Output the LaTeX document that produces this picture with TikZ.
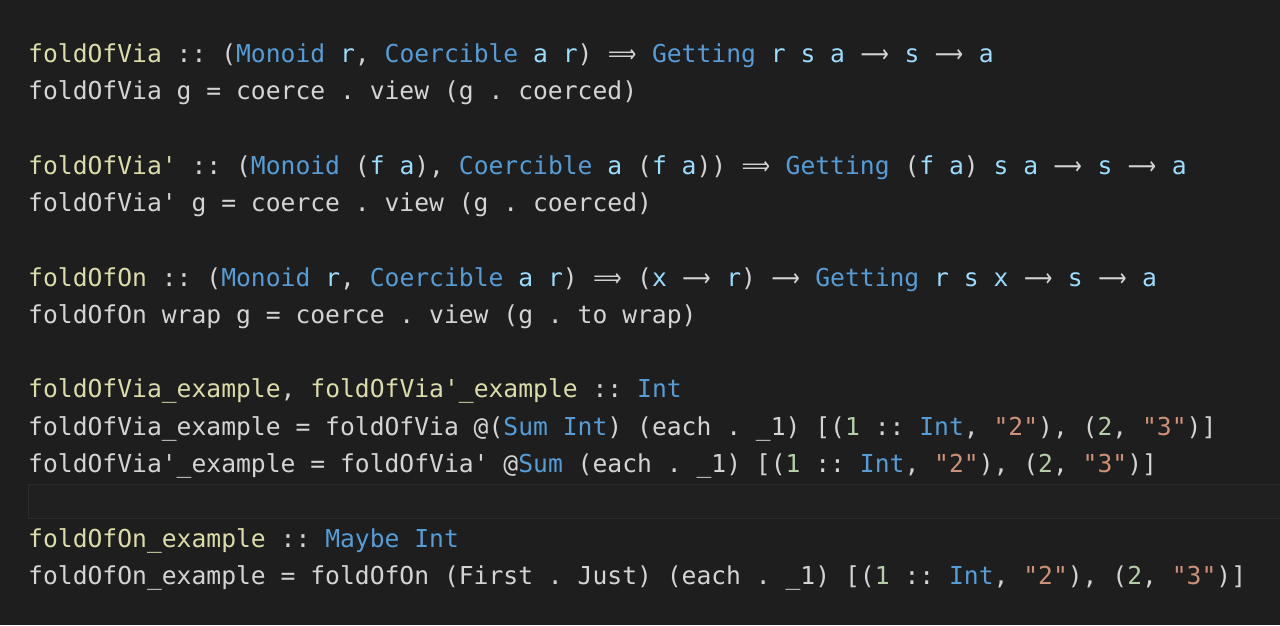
\documentclass[tikz,border=0pt]{standalone}
\usepackage{fontspec}
\usepackage{graphicx}
\setmonofont{DejaVu Sans Mono}
\newfontfamily\arrowfont{DejaVu Sans}
\definecolor{editorbg}{HTML}{1E1E1E}
\definecolor{lineborder}{HTML}{2B2B2B}
\definecolor{linefill}{HTML}{202020}
\definecolor{plain}{HTML}{D4D4D4}
\definecolor{fnyellow}{HTML}{DCDCAA}
\definecolor{tyblue}{HTML}{569CD6}
\definecolor{tvblue}{HTML}{9CDCFE}
\definecolor{numgreen}{HTML}{B5CEA8}
\definecolor{strorange}{HTML}{CE9178}
\newlength\cellw
\newcommand\codefont{\ttfamily\fontsize{24.67pt}{37pt}\selectfont\settowidth{\cellw}{0}}
\newcommand\hsFn[1]{\textcolor{fnyellow}{#1}}
\newcommand\hsTy[1]{\textcolor{tyblue}{#1}}
\newcommand\hsVar[1]{\textcolor{tvblue}{#1}}
\newcommand\hsNum[1]{\textcolor{numgreen}{#1}}
\newcommand\hsStr[1]{\textcolor{strorange}{#1}}
\newcommand\ARR{\makebox[2\cellw]{\arrowfont\scalebox{0.8}[1]{⟶}}}
\newcommand\IMP{\makebox[2\cellw]{\arrowfont\scalebox{0.8}[1]{⟹}}}
\begin{document}
\begin{tikzpicture}[x=1pt,y=-1pt,line join=round,line cap=round]
	\tikzset{codeline/.style={anchor=base west,inner sep=0pt,text=plain,font=\codefont}}
	%%%%%%%%% background
	\fill[editorbg](0,0)rectangle(1280,625);
	\useasboundingbox(0,0)rectangle(1280,625);
	%%%%%%%%% current line
	\draw[lineborder,fill=linefill,line width=1.5pt](28.5,484.5)rectangle(1290,518.5);
	%%%%%%%%% code
	\node[codeline] (l1) at (28,62.5) {\hsFn{foldOfVia} :: (\hsTy{Monoid} \hsVar{r}, \hsTy{Coercible} \hsVar{a} \hsVar{r}) \IMP{} \hsTy{Getting} \hsVar{r} \hsVar{s} \hsVar{a} \ARR{} \hsVar{s} \ARR{} \hsVar{a}};
	\node[codeline] (l2) at (28,99.8) {foldOfVia g = coerce . view (g . coerced)};
	\node[codeline] (l4) at (28,174.3) {\hsFn{foldOfVia'} :: (\hsTy{Monoid} (\hsVar{f} \hsVar{a}), \hsTy{Coercible} \hsVar{a} (\hsVar{f} \hsVar{a})) \IMP{} \hsTy{Getting} (\hsVar{f} \hsVar{a}) \hsVar{s} \hsVar{a} \ARR{} \hsVar{s} \ARR{} \hsVar{a}};
	\node[codeline] (l5) at (28,211.6) {foldOfVia' g = coerce . view (g . coerced)};
	\node[codeline] (l7) at (28,286.1) {\hsFn{foldOfOn} :: (\hsTy{Monoid} \hsVar{r}, \hsTy{Coercible} \hsVar{a} \hsVar{r}) \IMP{} (\hsVar{x} \ARR{} \hsVar{r}) \ARR{} \hsTy{Getting} \hsVar{r} \hsVar{s} \hsVar{x} \ARR{} \hsVar{s} \ARR{} \hsVar{a}};
	\node[codeline] (l8) at (28,323.4) {foldOfOn wrap g = coerce . view (g . to wrap)};
	\node[codeline] (l10) at (28,397.9) {\hsFn{foldOfVia\_example}, \hsFn{foldOfVia'\_example} :: \hsTy{Int}};
	\node[codeline] (l11) at (28,435.2) {foldOfVia\_example = foldOfVia @(\hsTy{Sum Int}) (each . \_1) [(\hsNum{1} :: \hsTy{Int}, \hsStr{"2"}), (\hsNum{2}, \hsStr{"3"})]};
	\node[codeline] (l12) at (28,472.5) {foldOfVia'\_example = foldOfVia' @\hsTy{Sum} (each . \_1) [(\hsNum{1} :: \hsTy{Int}, \hsStr{"2"}), (\hsNum{2}, \hsStr{"3"})]};
	\node[codeline] (l14) at (28,547.1) {\hsFn{foldOfOn\_example} :: \hsTy{Maybe Int}};
	\node[codeline] (l15) at (28,584.3) {foldOfOn\_example = foldOfOn (First . Just) (each . \_1) [(\hsNum{1} :: \hsTy{Int}, \hsStr{"2"}), (\hsNum{2}, \hsStr{"3"})]};
\end{tikzpicture}
\end{document}
